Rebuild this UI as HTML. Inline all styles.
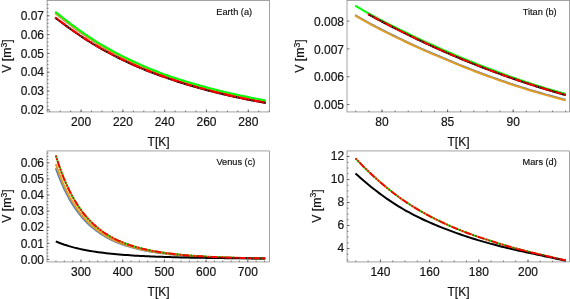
<!DOCTYPE html>
<html><head><meta charset="utf-8"><title>V vs T</title>
<style>
html,body{margin:0;padding:0;background:#fff;}
body{width:570px;height:299px;overflow:hidden;}
svg{display:block;font-family:"Liberation Sans",sans-serif;fill:#111111;}
text{stroke:#111111;stroke-width:0.18px;}
svg{will-change:transform;transform:translateZ(0);}
</style></head><body>
<svg width="570" height="299" viewBox="0 0 570 299">
<rect width="570" height="299" fill="#ffffff"/>
<!-- panel a -->
<path d="M55.20,13.21 L57.87,15.33 L60.53,17.41 L63.20,19.50 L65.86,21.58 L68.53,23.65 L71.19,25.68 L73.86,27.65 L76.53,29.59 L79.19,31.49 L81.86,33.36 L84.52,35.20 L87.19,37.02 L89.86,38.82 L92.52,40.60 L95.19,42.33 L97.85,44.01 L100.52,45.62 L103.18,47.18 L105.85,48.71 L108.52,50.21 L111.18,51.69 L113.85,53.13 L116.51,54.55 L119.18,55.94 L121.85,57.31 L124.51,58.65 L127.18,59.96 L129.84,61.25 L132.51,62.51 L135.17,63.74 L137.84,64.96 L140.51,66.15 L143.17,67.31 L145.84,68.45 L148.50,69.57 L151.17,70.67 L153.84,71.74 L156.50,72.79 L159.17,73.82 L161.83,74.83 L164.50,75.82 L167.16,76.79 L169.83,77.74 L172.50,78.67 L175.16,79.56 L177.83,80.42 L180.49,81.26 L183.16,82.08 L185.83,82.88 L188.49,83.67 L191.16,84.46 L193.82,85.23 L196.49,86.01 L199.15,86.77 L201.82,87.52 L204.49,88.25 L207.15,88.97 L209.82,89.67 L212.48,90.36 L215.15,91.04 L217.82,91.71 L220.48,92.36 L223.15,93.00 L225.81,93.63 L228.48,94.25 L231.14,94.86 L233.81,95.46 L236.48,96.06 L239.14,96.64 L241.81,97.21 L244.47,97.77 L247.14,98.33 L249.81,98.88 L252.47,99.42 L255.14,99.95 L257.80,100.48 L260.47,101.01 L263.13,101.52 L265.80,102.03" fill="none" stroke="#5e81b5" stroke-width="1.6" stroke-linecap="butt" stroke-linejoin="round"/>
<path d="M55.20,13.21 L57.87,15.33 L60.53,17.41 L63.20,19.50 L65.86,21.58 L68.53,23.65 L71.19,25.68 L73.86,27.65 L76.53,29.59 L79.19,31.49 L81.86,33.36 L84.52,35.20 L87.19,37.02 L89.86,38.82 L92.52,40.60 L95.19,42.33 L97.85,44.01 L100.52,45.62 L103.18,47.18 L105.85,48.71 L108.52,50.21 L111.18,51.69 L113.85,53.13 L116.51,54.55 L119.18,55.94 L121.85,57.31 L124.51,58.65 L127.18,59.96 L129.84,61.25 L132.51,62.51 L135.17,63.74 L137.84,64.96 L140.51,66.15 L143.17,67.31 L145.84,68.45 L148.50,69.57 L151.17,70.67 L153.84,71.74 L156.50,72.79 L159.17,73.82 L161.83,74.83 L164.50,75.82 L167.16,76.79 L169.83,77.74 L172.50,78.67 L175.16,79.56 L177.83,80.42 L180.49,81.26 L183.16,82.08 L185.83,82.88 L188.49,83.67 L191.16,84.46 L193.82,85.23 L196.49,86.01 L199.15,86.77 L201.82,87.52 L204.49,88.25 L207.15,88.97 L209.82,89.67 L212.48,90.36 L215.15,91.04 L217.82,91.71 L220.48,92.36 L223.15,93.00 L225.81,93.63 L228.48,94.25 L231.14,94.86 L233.81,95.46 L236.48,96.06 L239.14,96.64 L241.81,97.21 L244.47,97.77 L247.14,98.33 L249.81,98.88 L252.47,99.42 L255.14,99.95 L257.80,100.48 L260.47,101.01 L263.13,101.52 L265.80,102.03" fill="none" stroke="#e19c24" stroke-width="1.6" stroke-linecap="butt" stroke-linejoin="round"/>
<path d="M55.20,11.71 L57.87,13.83 L60.53,15.91 L63.20,18.00 L65.86,20.08 L68.53,22.15 L71.19,24.18 L73.86,26.15 L76.53,28.09 L79.19,29.99 L81.86,31.86 L84.52,33.70 L87.19,35.52 L89.86,37.32 L92.52,39.10 L95.19,40.83 L97.85,42.51 L100.52,44.12 L103.18,45.68 L105.85,47.21 L108.52,48.71 L111.18,50.19 L113.85,51.63 L116.51,53.05 L119.18,54.44 L121.85,55.81 L124.51,57.15 L127.18,58.46 L129.84,59.75 L132.51,61.01 L135.17,62.24 L137.84,63.46 L140.51,64.65 L143.17,65.81 L145.84,66.95 L148.50,68.07 L151.17,69.17 L153.84,70.24 L156.50,71.29 L159.17,72.32 L161.83,73.33 L164.50,74.32 L167.16,75.29 L169.83,76.24 L172.50,77.17 L175.16,78.06 L177.83,78.92 L180.49,79.76 L183.16,80.58 L185.83,81.38 L188.49,82.17 L191.16,82.96 L193.82,83.73 L196.49,84.51 L199.15,85.27 L201.82,86.02 L204.49,86.75 L207.15,87.47 L209.82,88.17 L212.48,88.86 L215.15,89.54 L217.82,90.21 L220.48,90.86 L223.15,91.50 L225.81,92.13 L228.48,92.75 L231.14,93.36 L233.81,93.96 L236.48,94.56 L239.14,95.14 L241.81,95.71 L244.47,96.27 L247.14,96.83 L249.81,97.38 L252.47,97.92 L255.14,98.45 L257.80,98.98 L260.47,99.51 L263.13,100.02 L265.80,100.53" fill="none" stroke="#00ff00" stroke-width="2.0" stroke-linecap="butt" stroke-linejoin="round"/>
<path d="M55.20,17.76 L57.87,19.78 L60.53,21.77 L63.20,23.73 L65.86,25.68 L68.53,27.60 L71.19,29.50 L73.86,31.37 L76.53,33.21 L79.19,35.01 L81.86,36.80 L84.52,38.56 L87.19,40.29 L89.86,41.99 L92.52,43.65 L95.19,45.25 L97.85,46.81 L100.52,48.34 L103.18,49.83 L105.85,51.30 L108.52,52.74 L111.18,54.16 L113.85,55.55 L116.51,56.91 L119.18,58.25 L121.85,59.56 L124.51,60.85 L127.18,62.11 L129.84,63.35 L132.51,64.57 L135.17,65.76 L137.84,66.93 L140.51,68.06 L143.17,69.16 L145.84,70.23 L148.50,71.28 L151.17,72.30 L153.84,73.30 L156.50,74.29 L159.17,75.26 L161.83,76.21 L164.50,77.16 L167.16,78.10 L169.83,79.02 L172.50,79.92 L175.16,80.81 L177.83,81.68 L180.49,82.53 L183.16,83.37 L185.83,84.19 L188.49,84.99 L191.16,85.79 L193.82,86.56 L196.49,87.33 L199.15,88.08 L201.82,88.81 L204.49,89.53 L207.15,90.24 L209.82,90.93 L212.48,91.62 L215.15,92.29 L217.82,92.94 L220.48,93.59 L223.15,94.22 L225.81,94.84 L228.48,95.46 L231.14,96.06 L233.81,96.65 L236.48,97.23 L239.14,97.80 L241.81,98.36 L244.47,98.92 L247.14,99.46 L249.81,100.00 L252.47,100.53 L255.14,101.05 L257.80,101.57 L260.47,102.08 L263.13,102.58 L265.80,103.08" fill="none" stroke="#000000" stroke-width="2.0" stroke-linecap="butt" stroke-linejoin="round"/>
<path d="M55.20,17.46 L57.87,19.48 L60.53,21.47 L63.20,23.43 L65.86,25.38 L68.53,27.30 L71.19,29.20 L73.86,31.07 L76.53,32.91 L79.19,34.71 L81.86,36.50 L84.52,38.26 L87.19,39.99 L89.86,41.69 L92.52,43.35 L95.19,44.95 L97.85,46.51 L100.52,48.04 L103.18,49.53 L105.85,51.00 L108.52,52.44 L111.18,53.86 L113.85,55.25 L116.51,56.61 L119.18,57.95 L121.85,59.26 L124.51,60.55 L127.18,61.81 L129.84,63.05 L132.51,64.27 L135.17,65.46 L137.84,66.63 L140.51,67.76 L143.17,68.86 L145.84,69.93 L148.50,70.98 L151.17,72.00 L153.84,73.00 L156.50,73.99 L159.17,74.96 L161.83,75.91 L164.50,76.86 L167.16,77.80 L169.83,78.72 L172.50,79.62 L175.16,80.51 L177.83,81.38 L180.49,82.23 L183.16,83.07 L185.83,83.89 L188.49,84.69 L191.16,85.49 L193.82,86.26 L196.49,87.03 L199.15,87.78 L201.82,88.51 L204.49,89.23 L207.15,89.94 L209.82,90.63 L212.48,91.32 L215.15,91.99 L217.82,92.64 L220.48,93.29 L223.15,93.92 L225.81,94.54 L228.48,95.16 L231.14,95.76 L233.81,96.35 L236.48,96.93 L239.14,97.50 L241.81,98.06 L244.47,98.62 L247.14,99.16 L249.81,99.70 L252.47,100.23 L255.14,100.75 L257.80,101.27 L260.47,101.78 L263.13,102.28 L265.80,102.78" fill="none" stroke="#ff0000" stroke-width="2.2" stroke-linecap="butt" stroke-linejoin="round" stroke-dasharray="1.8 1.1 1.8 1.1 7.2 1.1"/>
<path d="M49.75,111.95v-1.4 M60.20,111.95v-1.4 M70.65,111.95v-1.4 M81.10,111.95v-1.4 M91.55,111.95v-1.4 M102.00,111.95v-1.4 M112.45,111.95v-1.4 M122.90,111.95v-1.4 M133.35,111.95v-1.4 M143.80,111.95v-1.4 M154.25,111.95v-1.4 M164.70,111.95v-1.4 M175.15,111.95v-1.4 M185.60,111.95v-1.4 M196.05,111.95v-1.4 M206.50,111.95v-1.4 M216.95,111.95v-1.4 M227.40,111.95v-1.4 M237.85,111.95v-1.4 M248.30,111.95v-1.4 M258.75,111.95v-1.4 M269.20,111.95v-1.4 M81.10,111.95v-2.5 M122.90,111.95v-2.5 M164.70,111.95v-2.5 M206.50,111.95v-2.5 M248.30,111.95v-2.5 M47.1,109.80h1.4 M47.1,106.04h1.4 M47.1,102.28h1.4 M47.1,98.52h1.4 M47.1,94.76h1.4 M47.1,91.00h1.4 M47.1,87.24h1.4 M47.1,83.48h1.4 M47.1,79.72h1.4 M47.1,75.96h1.4 M47.1,72.20h1.4 M47.1,68.44h1.4 M47.1,64.68h1.4 M47.1,60.92h1.4 M47.1,57.16h1.4 M47.1,53.40h1.4 M47.1,49.64h1.4 M47.1,45.88h1.4 M47.1,42.12h1.4 M47.1,38.36h1.4 M47.1,34.60h1.4 M47.1,30.84h1.4 M47.1,27.08h1.4 M47.1,23.32h1.4 M47.1,19.56h1.4 M47.1,15.80h1.4 M47.1,12.04h1.4 M47.1,8.28h1.4 M47.1,4.52h1.4 M47.1,109.80h2.5 M47.1,91.00h2.5 M47.1,72.20h2.5 M47.1,53.40h2.5 M47.1,34.60h2.5 M47.1,15.80h2.5" stroke="#505050" stroke-width="0.8" fill="none"/>
<rect x="47.1" y="0.3" width="222.4" height="111.65" fill="none" stroke="#666666" stroke-width="0.6"/>
<text x="44.00" y="114.00" font-size="12" text-anchor="end" >0.02</text>
<text x="44.00" y="95.20" font-size="12" text-anchor="end" >0.03</text>
<text x="44.00" y="76.40" font-size="12" text-anchor="end" >0.04</text>
<text x="44.00" y="57.60" font-size="12" text-anchor="end" >0.05</text>
<text x="44.00" y="38.80" font-size="12" text-anchor="end" >0.06</text>
<text x="44.00" y="20.00" font-size="12" text-anchor="end" >0.07</text>
<text x="81.10" y="126.00" font-size="12" text-anchor="middle" >200</text>
<text x="122.90" y="126.00" font-size="12" text-anchor="middle" >220</text>
<text x="164.70" y="126.00" font-size="12" text-anchor="middle" >240</text>
<text x="206.50" y="126.00" font-size="12" text-anchor="middle" >260</text>
<text x="248.30" y="126.00" font-size="12" text-anchor="middle" >280</text>
<text x="158.60" y="146.00" font-size="12" text-anchor="middle" >T[K]</text>
<text transform="translate(11.00,56.10) rotate(-90)" font-size="12.25" text-anchor="middle">V [m<tspan font-size="8.6" dy="-4.2">3</tspan><tspan dy="4.2">]</tspan></text>
<text x="234.20" y="15.20" font-size="9.2" text-anchor="middle" >Earth (a)</text>
<!-- panel b -->
<path d="M355.10,14.97 L357.77,16.42 L360.43,17.89 L363.10,19.38 L365.77,20.88 L368.44,22.37 L371.10,23.84 L373.77,25.28 L376.44,26.67 L379.10,28.05 L381.77,29.41 L384.44,30.77 L387.11,32.12 L389.77,33.45 L392.44,34.78 L395.11,36.09 L397.77,37.40 L400.44,38.69 L403.11,39.97 L405.77,41.24 L408.44,42.49 L411.11,43.74 L413.78,44.98 L416.44,46.20 L419.11,47.42 L421.78,48.62 L424.44,49.80 L427.11,50.95 L429.78,52.09 L432.45,53.21 L435.11,54.33 L437.78,55.45 L440.45,56.56 L443.11,57.69 L445.78,58.82 L448.45,59.95 L451.12,61.07 L453.78,62.18 L456.45,63.28 L459.12,64.37 L461.78,65.45 L464.45,66.52 L467.12,67.58 L469.78,68.63 L472.45,69.67 L475.12,70.70 L477.79,71.72 L480.45,72.73 L483.12,73.73 L485.79,74.72 L488.45,75.70 L491.12,76.67 L493.79,77.63 L496.46,78.58 L499.12,79.52 L501.79,80.45 L504.46,81.37 L507.12,82.28 L509.79,83.18 L512.46,84.07 L515.13,84.94 L517.79,85.81 L520.46,86.67 L523.13,87.51 L525.79,88.35 L528.46,89.17 L531.13,89.99 L533.79,90.79 L536.46,91.58 L539.13,92.37 L541.80,93.14 L544.46,93.90 L547.13,94.65 L549.80,95.38 L552.46,96.11 L555.13,96.83 L557.80,97.53 L560.47,98.23 L563.13,98.91 L565.80,99.58" fill="none" stroke="#5e81b5" stroke-width="1.6" stroke-linecap="butt" stroke-linejoin="round"/>
<path d="M355.10,15.72 L357.77,17.17 L360.43,18.64 L363.10,20.13 L365.77,21.63 L368.44,23.12 L371.10,24.59 L373.77,26.03 L376.44,27.42 L379.10,28.80 L381.77,30.16 L384.44,31.52 L387.11,32.87 L389.77,34.20 L392.44,35.53 L395.11,36.84 L397.77,38.15 L400.44,39.44 L403.11,40.72 L405.77,41.99 L408.44,43.24 L411.11,44.49 L413.78,45.73 L416.44,46.95 L419.11,48.17 L421.78,49.37 L424.44,50.55 L427.11,51.70 L429.78,52.84 L432.45,53.96 L435.11,55.08 L437.78,56.20 L440.45,57.31 L443.11,58.44 L445.78,59.57 L448.45,60.70 L451.12,61.82 L453.78,62.93 L456.45,64.03 L459.12,65.12 L461.78,66.20 L464.45,67.27 L467.12,68.33 L469.78,69.38 L472.45,70.42 L475.12,71.45 L477.79,72.47 L480.45,73.48 L483.12,74.48 L485.79,75.47 L488.45,76.45 L491.12,77.42 L493.79,78.38 L496.46,79.33 L499.12,80.27 L501.79,81.20 L504.46,82.12 L507.12,83.03 L509.79,83.93 L512.46,84.82 L515.13,85.69 L517.79,86.56 L520.46,87.42 L523.13,88.26 L525.79,89.10 L528.46,89.92 L531.13,90.74 L533.79,91.54 L536.46,92.33 L539.13,93.12 L541.80,93.89 L544.46,94.65 L547.13,95.40 L549.80,96.13 L552.46,96.86 L555.13,97.58 L557.80,98.28 L560.47,98.98 L563.13,99.66 L565.80,100.33" fill="none" stroke="#e19c24" stroke-width="2.0" stroke-linecap="butt" stroke-linejoin="round"/>
<path d="M355.10,5.74 L357.77,7.22 L360.43,8.73 L363.10,10.26 L365.77,11.79 L368.44,13.31 L371.10,14.79 L373.77,16.23 L376.44,17.66 L379.10,19.07 L381.77,20.47 L384.44,21.84 L387.11,23.20 L389.77,24.54 L392.44,25.88 L395.11,27.21 L397.77,28.54 L400.44,29.85 L403.11,31.16 L405.77,32.46 L408.44,33.75 L411.11,35.03 L413.78,36.31 L416.44,37.58 L419.11,38.83 L421.78,40.09 L424.44,41.33 L427.11,42.56 L429.78,43.79 L432.45,45.00 L435.11,46.21 L437.78,47.41 L440.45,48.60 L443.11,49.79 L445.78,50.96 L448.45,52.13 L451.12,53.28 L453.78,54.43 L456.45,55.57 L459.12,56.70 L461.78,57.82 L464.45,58.93 L467.12,60.04 L469.78,61.13 L472.45,62.21 L475.12,63.29 L477.79,64.36 L480.45,65.41 L483.12,66.46 L485.79,67.50 L488.45,68.53 L491.12,69.55 L493.79,70.56 L496.46,71.56 L499.12,72.55 L501.79,73.53 L504.46,74.50 L507.12,75.46 L509.79,76.41 L512.46,77.35 L515.13,78.28 L517.79,79.20 L520.46,80.12 L523.13,81.02 L525.79,81.91 L528.46,82.79 L531.13,83.66 L533.79,84.52 L536.46,85.37 L539.13,86.21 L541.80,87.04 L544.46,87.86 L547.13,88.67 L549.80,89.47 L552.46,90.26 L555.13,91.03 L557.80,91.80 L560.47,92.55 L563.13,93.30 L565.80,94.03" fill="none" stroke="#00ff00" stroke-width="2.0" stroke-linecap="butt" stroke-linejoin="round"/>
<path d="M368.10,14.22 L370.60,15.58 L373.11,16.93 L375.61,18.28 L378.11,19.61 L380.61,20.94 L383.12,22.26 L385.62,23.56 L388.12,24.86 L390.62,26.15 L393.13,27.44 L395.63,28.71 L398.13,29.97 L400.63,31.23 L403.14,32.47 L405.64,33.71 L408.14,34.94 L410.64,36.16 L413.15,37.37 L415.65,38.57 L418.15,39.76 L420.65,40.95 L423.16,42.12 L425.66,43.29 L428.16,44.45 L430.66,45.60 L433.17,46.74 L435.67,47.87 L438.17,49.00 L440.67,50.11 L443.18,51.22 L445.68,52.32 L448.18,53.40 L450.68,54.49 L453.19,55.56 L455.69,56.62 L458.19,57.68 L460.69,58.72 L463.20,59.76 L465.70,60.79 L468.20,61.81 L470.70,62.82 L473.21,63.83 L475.71,64.82 L478.21,65.81 L480.71,66.79 L483.22,67.76 L485.72,68.72 L488.22,69.67 L490.72,70.62 L493.23,71.55 L495.73,72.48 L498.23,73.40 L500.73,74.31 L503.24,75.22 L505.74,76.11 L508.24,77.00 L510.74,77.88 L513.25,78.75 L515.75,79.61 L518.25,80.47 L520.75,81.31 L523.26,82.15 L525.76,82.98 L528.26,83.80 L530.76,84.61 L533.27,85.42 L535.77,86.21 L538.27,87.00 L540.77,87.78 L543.28,88.56 L545.78,89.32 L548.28,90.08 L550.78,90.83 L553.29,91.57 L555.79,92.30 L558.29,93.02 L560.79,93.74 L563.30,94.45 L565.80,95.15" fill="none" stroke="#000000" stroke-width="2.0" stroke-linecap="butt" stroke-linejoin="round"/>
<path d="M368.10,14.07 L370.60,15.43 L373.11,16.78 L375.61,18.13 L378.11,19.46 L380.61,20.79 L383.12,22.11 L385.62,23.41 L388.12,24.71 L390.62,26.00 L393.13,27.29 L395.63,28.56 L398.13,29.82 L400.63,31.08 L403.14,32.32 L405.64,33.56 L408.14,34.79 L410.64,36.01 L413.15,37.22 L415.65,38.42 L418.15,39.61 L420.65,40.80 L423.16,41.97 L425.66,43.14 L428.16,44.30 L430.66,45.45 L433.17,46.59 L435.67,47.72 L438.17,48.85 L440.67,49.96 L443.18,51.07 L445.68,52.17 L448.18,53.25 L450.68,54.34 L453.19,55.41 L455.69,56.47 L458.19,57.53 L460.69,58.57 L463.20,59.61 L465.70,60.64 L468.20,61.66 L470.70,62.67 L473.21,63.68 L475.71,64.67 L478.21,65.66 L480.71,66.64 L483.22,67.61 L485.72,68.57 L488.22,69.52 L490.72,70.47 L493.23,71.40 L495.73,72.33 L498.23,73.25 L500.73,74.16 L503.24,75.07 L505.74,75.96 L508.24,76.85 L510.74,77.73 L513.25,78.60 L515.75,79.46 L518.25,80.32 L520.75,81.16 L523.26,82.00 L525.76,82.83 L528.26,83.65 L530.76,84.46 L533.27,85.27 L535.77,86.06 L538.27,86.85 L540.77,87.63 L543.28,88.41 L545.78,89.17 L548.28,89.93 L550.78,90.68 L553.29,91.42 L555.79,92.15 L558.29,92.87 L560.79,93.59 L563.30,94.30 L565.80,95.00" fill="none" stroke="#ff0000" stroke-width="2.0" stroke-linecap="butt" stroke-linejoin="round" stroke-dasharray="1.8 1.1 1.8 1.1 7.2 1.1"/>
<path d="M355.76,111.95v-1.4 M368.88,111.95v-1.4 M382.00,111.95v-1.4 M395.12,111.95v-1.4 M408.24,111.95v-1.4 M421.36,111.95v-1.4 M434.48,111.95v-1.4 M447.60,111.95v-1.4 M460.72,111.95v-1.4 M473.84,111.95v-1.4 M486.96,111.95v-1.4 M500.08,111.95v-1.4 M513.20,111.95v-1.4 M526.32,111.95v-1.4 M539.44,111.95v-1.4 M552.56,111.95v-1.4 M565.68,111.95v-1.4 M382.00,111.95v-2.5 M447.60,111.95v-2.5 M513.20,111.95v-2.5 M347.0,104.50h2.5 M347.0,76.70h2.5 M347.0,48.90h2.5 M347.0,21.10h2.5" stroke="#505050" stroke-width="0.8" fill="none"/>
<rect x="347.0" y="0.3" width="222.35000000000002" height="111.65" fill="none" stroke="#666666" stroke-width="0.6"/>
<text x="344.00" y="109.25" font-size="12" text-anchor="end" >0.005</text>
<text x="344.00" y="81.45" font-size="12" text-anchor="end" >0.006</text>
<text x="344.00" y="53.65" font-size="12" text-anchor="end" >0.007</text>
<text x="344.00" y="25.85" font-size="12" text-anchor="end" >0.008</text>
<text x="382.00" y="126.00" font-size="12" text-anchor="middle" >80</text>
<text x="447.60" y="126.00" font-size="12" text-anchor="middle" >85</text>
<text x="513.20" y="126.00" font-size="12" text-anchor="middle" >90</text>
<text x="458.50" y="146.00" font-size="12" text-anchor="middle" >T[K]</text>
<text transform="translate(304.10,56.10) rotate(-90)" font-size="12.25" text-anchor="middle">V [m<tspan font-size="8.6" dy="-4.2">3</tspan><tspan dy="4.2">]</tspan></text>
<text x="539.70" y="15.20" font-size="9.2" text-anchor="middle" >Titan (b)</text>
<!-- panel c -->
<path d="M55.80,168.09 L58.45,175.36 L61.10,181.95 L63.75,187.94 L66.40,193.40 L69.05,198.38 L71.70,202.92 L74.35,207.07 L77.01,210.87 L79.66,214.36 L82.31,217.55 L84.96,220.49 L87.61,223.19 L90.26,225.68 L92.91,227.97 L95.56,230.08 L98.21,232.03 L100.86,233.84 L103.51,235.51 L106.16,237.06 L108.81,238.49 L111.46,239.82 L114.11,241.06 L116.76,242.21 L119.42,243.28 L122.07,244.27 L124.72,245.20 L127.37,246.06 L130.02,246.87 L132.67,247.62 L135.32,248.32 L137.97,248.97 L140.62,249.59 L143.27,250.16 L145.92,250.70 L148.57,251.20 L151.22,251.67 L153.87,252.11 L156.52,252.53 L159.17,252.91 L161.83,253.28 L164.48,253.62 L167.13,253.94 L169.78,254.24 L172.43,254.53 L175.08,254.79 L177.73,255.04 L180.38,255.28 L183.03,255.50 L185.68,255.71 L188.33,255.91 L190.98,256.09 L193.63,256.26 L196.28,256.43 L198.93,256.58 L201.58,256.73 L204.24,256.86 L206.89,256.99 L209.54,257.12 L212.19,257.23 L214.84,257.34 L217.49,257.44 L220.14,257.53 L222.79,257.63 L225.44,257.71 L228.09,257.79 L230.74,257.87 L233.39,257.94 L236.04,258.00 L238.69,258.07 L241.34,258.13 L243.99,258.18 L246.65,258.24 L249.30,258.29 L251.95,258.33 L254.60,258.38 L257.25,258.42 L259.90,258.46 L262.55,258.49 L265.20,258.53" fill="none" stroke="#5e81b5" stroke-width="2.0" stroke-linecap="butt" stroke-linejoin="round"/>
<path d="M55.80,164.14 L58.45,171.72 L61.10,178.60 L63.75,184.85 L66.40,190.54 L69.05,195.73 L71.70,200.47 L74.35,204.80 L77.01,208.77 L79.66,212.40 L82.31,215.74 L84.96,218.80 L87.61,221.62 L90.26,224.21 L92.91,226.60 L95.56,228.81 L98.21,230.85 L100.86,232.73 L103.51,234.47 L106.16,236.09 L108.81,237.58 L111.46,238.97 L114.11,240.26 L116.76,241.46 L119.42,242.58 L122.07,243.61 L124.72,244.58 L127.37,245.48 L130.02,246.32 L132.67,247.10 L135.32,247.84 L137.97,248.52 L140.62,249.16 L143.27,249.76 L145.92,250.32 L148.57,250.84 L151.22,251.33 L153.87,251.79 L156.52,252.23 L159.17,252.63 L161.83,253.01 L164.48,253.37 L167.13,253.70 L169.78,254.02 L172.43,254.31 L175.08,254.59 L177.73,254.85 L180.38,255.10 L183.03,255.33 L185.68,255.55 L188.33,255.75 L190.98,255.94 L193.63,256.12 L196.28,256.30 L198.93,256.46 L201.58,256.61 L204.24,256.75 L206.89,256.89 L209.54,257.01 L212.19,257.13 L214.84,257.24 L217.49,257.35 L220.14,257.45 L222.79,257.54 L225.44,257.63 L228.09,257.72 L230.74,257.80 L233.39,257.87 L236.04,257.94 L238.69,258.01 L241.34,258.07 L243.99,258.13 L246.65,258.18 L249.30,258.23 L251.95,258.28 L254.60,258.33 L257.25,258.37 L259.90,258.41 L262.55,258.45 L265.20,258.49" fill="none" stroke="#e19c24" stroke-width="2.0" stroke-linecap="butt" stroke-linejoin="round"/>
<path d="M55.80,155.51 L58.45,163.77 L61.10,171.27 L63.75,178.09 L66.40,184.30 L69.05,189.96 L71.70,195.13 L74.35,199.85 L77.01,204.18 L79.66,208.14 L82.31,211.78 L84.96,215.12 L87.61,218.19 L90.26,221.02 L92.91,223.63 L95.56,226.03 L98.21,228.25 L100.86,230.31 L103.51,232.21 L106.16,233.97 L108.81,235.60 L111.46,237.12 L114.11,238.52 L116.76,239.83 L119.42,241.04 L122.07,242.17 L124.72,243.23 L127.37,244.21 L130.02,245.13 L132.67,245.98 L135.32,246.78 L137.97,247.53 L140.62,248.22 L143.27,248.88 L145.92,249.49 L148.57,250.06 L151.22,250.59 L153.87,251.10 L156.52,251.57 L159.17,252.01 L161.83,252.42 L164.48,252.81 L167.13,253.18 L169.78,253.52 L172.43,253.84 L175.08,254.15 L177.73,254.43 L180.38,254.70 L183.03,254.95 L185.68,255.19 L188.33,255.41 L190.98,255.62 L193.63,255.82 L196.28,256.01 L198.93,256.18 L201.58,256.35 L204.24,256.50 L206.89,256.65 L209.54,256.79 L212.19,256.92 L214.84,257.04 L217.49,257.16 L220.14,257.26 L222.79,257.37 L225.44,257.46 L228.09,257.56 L230.74,257.64 L233.39,257.72 L236.04,257.80 L238.69,257.87 L241.34,257.94 L243.99,258.00 L246.65,258.06 L249.30,258.12 L251.95,258.17 L254.60,258.22 L257.25,258.27 L259.90,258.31 L262.55,258.35 L265.20,258.39" fill="none" stroke="#00ff00" stroke-width="1.8" stroke-linecap="butt" stroke-linejoin="round"/>
<path d="M55.80,241.41 L58.45,242.50 L61.10,243.51 L63.75,244.45 L66.40,245.32 L69.05,246.14 L71.70,246.89 L74.35,247.60 L77.01,248.25 L79.66,248.87 L82.31,249.44 L84.96,249.97 L87.61,250.47 L90.26,250.94 L92.91,251.37 L95.56,251.78 L98.21,252.17 L100.86,252.52 L103.51,252.86 L106.16,253.18 L108.81,253.47 L111.46,253.75 L114.11,254.01 L116.76,254.26 L119.42,254.49 L122.07,254.71 L124.72,254.92 L127.37,255.11 L130.02,255.29 L132.67,255.47 L135.32,255.63 L137.97,255.78 L140.62,255.93 L143.27,256.07 L145.92,256.20 L148.57,256.32 L151.22,256.44 L153.87,256.55 L156.52,256.66 L159.17,256.75 L161.83,256.85 L164.48,256.94 L167.13,257.02 L169.78,257.11 L172.43,257.18 L175.08,257.26 L177.73,257.33 L180.38,257.39 L183.03,257.45 L185.68,257.51 L188.33,257.57 L190.98,257.63 L193.63,257.68 L196.28,257.73 L198.93,257.78 L201.58,257.82 L204.24,257.86 L206.89,257.90 L209.54,257.94 L212.19,257.98 L214.84,258.02 L217.49,258.05 L220.14,258.08 L222.79,258.12 L225.44,258.15 L228.09,258.18 L230.74,258.20 L233.39,258.23 L236.04,258.25 L238.69,258.28 L241.34,258.30 L243.99,258.32 L246.65,258.34 L249.30,258.36 L251.95,258.38 L254.60,258.40 L257.25,258.42 L259.90,258.44 L262.55,258.45 L265.20,258.47" fill="none" stroke="#000000" stroke-width="2.0" stroke-linecap="butt" stroke-linejoin="round"/>
<path d="M55.80,155.51 L58.45,163.77 L61.10,171.27 L63.75,178.09 L66.40,184.30 L69.05,189.96 L71.70,195.13 L74.35,199.85 L77.01,204.18 L79.66,208.14 L82.31,211.78 L84.96,215.12 L87.61,218.19 L90.26,221.02 L92.91,223.63 L95.56,226.03 L98.21,228.25 L100.86,230.31 L103.51,232.21 L106.16,233.97 L108.81,235.60 L111.46,237.12 L114.11,238.52 L116.76,239.83 L119.42,241.04 L122.07,242.17 L124.72,243.23 L127.37,244.21 L130.02,245.13 L132.67,245.98 L135.32,246.78 L137.97,247.53 L140.62,248.22 L143.27,248.88 L145.92,249.49 L148.57,250.06 L151.22,250.59 L153.87,251.10 L156.52,251.57 L159.17,252.01 L161.83,252.42 L164.48,252.81 L167.13,253.18 L169.78,253.52 L172.43,253.84 L175.08,254.15 L177.73,254.43 L180.38,254.70 L183.03,254.95 L185.68,255.19 L188.33,255.41 L190.98,255.62 L193.63,255.82 L196.28,256.01 L198.93,256.18 L201.58,256.35 L204.24,256.50 L206.89,256.65 L209.54,256.79 L212.19,256.92 L214.84,257.04 L217.49,257.16 L220.14,257.26 L222.79,257.37 L225.44,257.46 L228.09,257.56 L230.74,257.64 L233.39,257.72 L236.04,257.80 L238.69,257.87 L241.34,257.94 L243.99,258.00 L246.65,258.06 L249.30,258.12 L251.95,258.17 L254.60,258.22 L257.25,258.27 L259.90,258.31 L262.55,258.35 L265.20,258.39" fill="none" stroke="#ff0000" stroke-width="2.0" stroke-linecap="butt" stroke-linejoin="round" stroke-dasharray="1.8 1.1 1.8 1.1 7.2 1.1"/>
<path d="M55.98,261.95v-1.4 M64.32,261.95v-1.4 M72.66,261.95v-1.4 M81.00,261.95v-1.4 M89.34,261.95v-1.4 M97.68,261.95v-1.4 M106.02,261.95v-1.4 M114.36,261.95v-1.4 M122.70,261.95v-1.4 M131.04,261.95v-1.4 M139.38,261.95v-1.4 M147.72,261.95v-1.4 M156.06,261.95v-1.4 M164.40,261.95v-1.4 M172.74,261.95v-1.4 M181.08,261.95v-1.4 M189.42,261.95v-1.4 M197.76,261.95v-1.4 M206.10,261.95v-1.4 M214.44,261.95v-1.4 M222.78,261.95v-1.4 M231.12,261.95v-1.4 M239.46,261.95v-1.4 M247.80,261.95v-1.4 M256.14,261.95v-1.4 M264.48,261.95v-1.4 M81.00,261.95v-2.5 M122.70,261.95v-2.5 M164.40,261.95v-2.5 M206.10,261.95v-2.5 M247.80,261.95v-2.5 M47.0,259.40h1.4 M47.0,256.18h1.4 M47.0,252.96h1.4 M47.0,249.74h1.4 M47.0,246.52h1.4 M47.0,243.30h1.4 M47.0,240.08h1.4 M47.0,236.86h1.4 M47.0,233.64h1.4 M47.0,230.42h1.4 M47.0,227.20h1.4 M47.0,223.98h1.4 M47.0,220.76h1.4 M47.0,217.54h1.4 M47.0,214.32h1.4 M47.0,211.10h1.4 M47.0,207.88h1.4 M47.0,204.66h1.4 M47.0,201.44h1.4 M47.0,198.22h1.4 M47.0,195.00h1.4 M47.0,191.78h1.4 M47.0,188.56h1.4 M47.0,185.34h1.4 M47.0,182.12h1.4 M47.0,178.90h1.4 M47.0,175.68h1.4 M47.0,172.46h1.4 M47.0,169.24h1.4 M47.0,166.02h1.4 M47.0,162.80h1.4 M47.0,159.58h1.4 M47.0,156.36h1.4 M47.0,153.14h1.4 M47.0,259.40h2.5 M47.0,243.30h2.5 M47.0,227.20h2.5 M47.0,211.10h2.5 M47.0,195.00h2.5 M47.0,178.90h2.5 M47.0,162.80h2.5" stroke="#505050" stroke-width="0.8" fill="none"/>
<rect x="47.0" y="150.95" width="222.5" height="111.0" fill="none" stroke="#666666" stroke-width="0.6"/>
<text x="44.00" y="263.60" font-size="12" text-anchor="end" >0.00</text>
<text x="44.00" y="247.50" font-size="12" text-anchor="end" >0.01</text>
<text x="44.00" y="231.40" font-size="12" text-anchor="end" >0.02</text>
<text x="44.00" y="215.30" font-size="12" text-anchor="end" >0.03</text>
<text x="44.00" y="199.20" font-size="12" text-anchor="end" >0.04</text>
<text x="44.00" y="183.10" font-size="12" text-anchor="end" >0.05</text>
<text x="44.00" y="167.00" font-size="12" text-anchor="end" >0.06</text>
<text x="81.00" y="276.20" font-size="12" text-anchor="middle" >300</text>
<text x="122.70" y="276.20" font-size="12" text-anchor="middle" >400</text>
<text x="164.40" y="276.20" font-size="12" text-anchor="middle" >500</text>
<text x="206.10" y="276.20" font-size="12" text-anchor="middle" >600</text>
<text x="247.80" y="276.20" font-size="12" text-anchor="middle" >700</text>
<text x="158.60" y="296.00" font-size="12" text-anchor="middle" >T[K]</text>
<text transform="translate(11.00,206.10) rotate(-90)" font-size="12.25" text-anchor="middle">V [m<tspan font-size="8.6" dy="-4.2">3</tspan><tspan dy="4.2">]</tspan></text>
<text x="235.90" y="165.20" font-size="9.2" text-anchor="middle" >Venus (c)</text>
<!-- panel d -->
<path d="M355.50,158.37 L358.16,161.17 L360.82,163.92 L363.49,166.61 L366.15,169.23 L368.81,171.80 L371.47,174.32 L374.13,176.77 L376.80,179.17 L379.46,181.53 L382.12,183.82 L384.78,186.07 L387.44,188.27 L390.11,190.41 L392.77,192.50 L395.43,194.53 L398.09,196.51 L400.75,198.43 L403.42,200.29 L406.08,202.10 L408.74,203.86 L411.40,205.57 L414.06,207.22 L416.73,208.84 L419.39,210.40 L422.05,211.93 L424.71,213.42 L427.37,214.87 L430.04,216.28 L432.70,217.67 L435.36,219.02 L438.02,220.34 L440.68,221.64 L443.35,222.91 L446.01,224.15 L448.67,225.35 L451.33,226.53 L453.99,227.67 L456.66,228.78 L459.32,229.87 L461.98,230.93 L464.64,231.96 L467.31,232.96 L469.97,233.94 L472.63,234.90 L475.29,235.83 L477.95,236.74 L480.62,237.62 L483.28,238.49 L485.94,239.34 L488.60,240.19 L491.26,241.04 L493.93,241.90 L496.59,242.74 L499.25,243.58 L501.91,244.41 L504.57,245.23 L507.24,246.02 L509.90,246.80 L512.56,247.55 L515.22,248.27 L517.88,248.97 L520.55,249.66 L523.21,250.35 L525.87,251.02 L528.53,251.68 L531.19,252.34 L533.86,252.98 L536.52,253.62 L539.18,254.25 L541.84,254.87 L544.50,255.49 L547.17,256.10 L549.83,256.72 L552.49,257.33 L555.15,257.95 L557.81,258.56 L560.48,259.18 L563.14,259.80 L565.80,260.42" fill="none" stroke="#00ff00" stroke-width="1.8" stroke-linecap="butt" stroke-linejoin="round"/>
<path d="M355.50,173.43 L358.16,175.86 L360.82,178.23 L363.49,180.54 L366.15,182.81 L368.81,185.01 L371.47,187.17 L374.13,189.27 L376.80,191.33 L379.46,193.34 L382.12,195.30 L384.78,197.21 L387.44,199.08 L390.11,200.90 L392.77,202.67 L395.43,204.39 L398.09,206.05 L400.75,207.67 L403.42,209.24 L406.08,210.76 L408.74,212.24 L411.40,213.67 L414.06,215.06 L416.73,216.41 L419.39,217.72 L422.05,218.99 L424.71,220.23 L427.37,221.44 L430.04,222.62 L432.70,223.77 L435.36,224.89 L438.02,225.99 L440.68,227.07 L443.35,228.12 L446.01,229.16 L448.67,230.18 L451.33,231.17 L453.99,232.15 L456.66,233.11 L459.32,234.05 L461.98,234.97 L464.64,235.87 L467.31,236.75 L469.97,237.61 L472.63,238.46 L475.29,239.28 L477.95,240.09 L480.62,240.87 L483.28,241.64 L485.94,242.39 L488.60,243.12 L491.26,243.85 L493.93,244.58 L496.59,245.29 L499.25,245.99 L501.91,246.67 L504.57,247.34 L507.24,248.00 L509.90,248.64 L512.56,249.26 L515.22,249.86 L517.88,250.45 L520.55,251.03 L523.21,251.61 L525.87,252.18 L528.53,252.75 L531.19,253.31 L533.86,253.88 L536.52,254.44 L539.18,255.01 L541.84,255.58 L544.50,256.15 L547.17,256.71 L549.83,257.28 L552.49,257.85 L555.15,258.42 L557.81,258.99 L560.48,259.57 L563.14,260.16 L565.80,260.75" fill="none" stroke="#000000" stroke-width="2.0" stroke-linecap="butt" stroke-linejoin="round"/>
<path d="M355.50,158.37 L358.16,161.17 L360.82,163.92 L363.49,166.61 L366.15,169.23 L368.81,171.80 L371.47,174.32 L374.13,176.77 L376.80,179.17 L379.46,181.53 L382.12,183.82 L384.78,186.07 L387.44,188.27 L390.11,190.41 L392.77,192.50 L395.43,194.53 L398.09,196.51 L400.75,198.43 L403.42,200.29 L406.08,202.10 L408.74,203.86 L411.40,205.57 L414.06,207.22 L416.73,208.84 L419.39,210.40 L422.05,211.93 L424.71,213.42 L427.37,214.87 L430.04,216.28 L432.70,217.67 L435.36,219.02 L438.02,220.34 L440.68,221.64 L443.35,222.91 L446.01,224.15 L448.67,225.35 L451.33,226.53 L453.99,227.67 L456.66,228.78 L459.32,229.87 L461.98,230.93 L464.64,231.96 L467.31,232.96 L469.97,233.94 L472.63,234.90 L475.29,235.83 L477.95,236.74 L480.62,237.62 L483.28,238.49 L485.94,239.34 L488.60,240.19 L491.26,241.04 L493.93,241.90 L496.59,242.74 L499.25,243.58 L501.91,244.41 L504.57,245.23 L507.24,246.02 L509.90,246.80 L512.56,247.55 L515.22,248.27 L517.88,248.97 L520.55,249.66 L523.21,250.35 L525.87,251.02 L528.53,251.68 L531.19,252.34 L533.86,252.98 L536.52,253.62 L539.18,254.25 L541.84,254.87 L544.50,255.49 L547.17,256.10 L549.83,256.72 L552.49,257.33 L555.15,257.95 L557.81,258.56 L560.48,259.18 L563.14,259.80 L565.80,260.42" fill="none" stroke="#ff0000" stroke-width="2.0" stroke-linecap="butt" stroke-linejoin="round" stroke-dasharray="1.8 1.1 1.8 1.1 7.2 1.1"/>
<path d="M355.80,261.95v-1.4 M368.10,261.95v-1.4 M380.40,261.95v-1.4 M392.70,261.95v-1.4 M405.00,261.95v-1.4 M417.30,261.95v-1.4 M429.60,261.95v-1.4 M441.90,261.95v-1.4 M454.20,261.95v-1.4 M466.50,261.95v-1.4 M478.80,261.95v-1.4 M491.10,261.95v-1.4 M503.40,261.95v-1.4 M515.70,261.95v-1.4 M528.00,261.95v-1.4 M540.30,261.95v-1.4 M552.60,261.95v-1.4 M564.90,261.95v-1.4 M380.40,261.95v-2.5 M429.60,261.95v-2.5 M478.80,261.95v-2.5 M528.00,261.95v-2.5 M347.05,260.00h1.4 M347.05,254.25h1.4 M347.05,248.50h1.4 M347.05,242.75h1.4 M347.05,237.00h1.4 M347.05,231.25h1.4 M347.05,225.50h1.4 M347.05,219.75h1.4 M347.05,214.00h1.4 M347.05,208.25h1.4 M347.05,202.50h1.4 M347.05,196.75h1.4 M347.05,191.00h1.4 M347.05,185.25h1.4 M347.05,179.50h1.4 M347.05,173.75h1.4 M347.05,168.00h1.4 M347.05,162.25h1.4 M347.05,156.50h1.4 M347.05,248.50h2.5 M347.05,225.50h2.5 M347.05,202.50h2.5 M347.05,179.50h2.5 M347.05,156.50h2.5" stroke="#505050" stroke-width="0.8" fill="none"/>
<rect x="347.05" y="150.95" width="222.3" height="111.0" fill="none" stroke="#666666" stroke-width="0.6"/>
<text x="344.15" y="252.40" font-size="12" text-anchor="end" >4</text>
<text x="344.15" y="229.40" font-size="12" text-anchor="end" >6</text>
<text x="344.15" y="206.40" font-size="12" text-anchor="end" >8</text>
<text x="344.15" y="183.40" font-size="12" text-anchor="end" >10</text>
<text x="344.15" y="160.40" font-size="12" text-anchor="end" >12</text>
<text x="380.40" y="276.20" font-size="12" text-anchor="middle" >140</text>
<text x="429.60" y="276.20" font-size="12" text-anchor="middle" >160</text>
<text x="478.80" y="276.20" font-size="12" text-anchor="middle" >180</text>
<text x="528.00" y="276.20" font-size="12" text-anchor="middle" >200</text>
<text x="458.50" y="296.00" font-size="12" text-anchor="middle" >T[K]</text>
<text transform="translate(320.60,206.10) rotate(-90)" font-size="12.25" text-anchor="middle">V [m<tspan font-size="8.6" dy="-4.2">3</tspan><tspan dy="4.2">]</tspan></text>
<text x="539.70" y="165.20" font-size="9.2" text-anchor="middle" >Mars (d)</text>
</svg></body></html>
